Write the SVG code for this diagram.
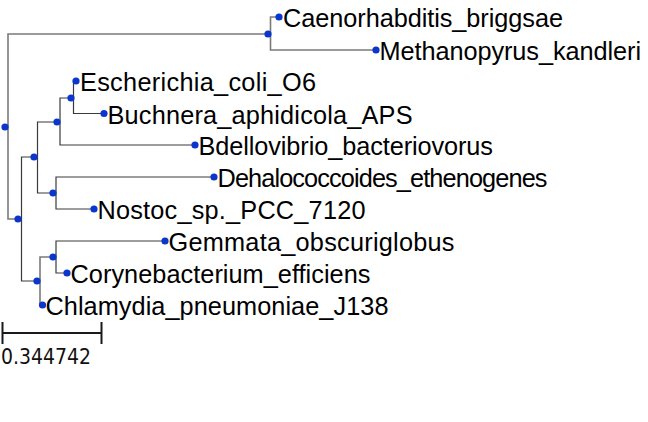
<svg xmlns="http://www.w3.org/2000/svg" width="648" height="422" viewBox="0 0 648 422">
<style>
.e{fill:none;stroke:#3a3a3a;stroke-width:1.2}
.g{fill:none;stroke:#7a7a7a;stroke-width:1.6}
.d{fill:#0a36cc}
.t{font-family:"Liberation Sans",Arial,sans-serif;font-size:25.3px;fill:#000}
.s{fill:none;stroke:#1a1a1a;stroke-width:2}
.sl{font-family:"DejaVu Sans",Verdana,sans-serif;font-size:21px;fill:#111}
</style>
<rect width="648" height="422" fill="#fff"/>
<g id="connectors">
<path class="g" d="M8,127V34H268M8,127V219H18"/>
<path class="g" d="M270.5,34V17H279M270.5,34V50H376"/>
<path class="e" d="M21.5,219V157H34M21.5,219V281H37"/>
<path class="e" d="M37.5,157V122H57M37.5,157V193H53"/>
<path class="e" d="M60,122V98H70M60,122V145H195"/>
<path class="e" d="M73.5,98V81H76M73.5,98V113.5H104"/>
<path class="e" d="M56,193V177H214M56,193V209H94"/>
<path class="g" d="M40,281V257H53M40,281V305H42"/>
<path class="e" d="M56,257V241H165M56,257V273H67"/>
</g>
<g id="internal-nodes">
<circle class="d" cx="5" cy="127" r="3.6"/>
<circle class="d" cx="268" cy="34" r="3.6"/>
<circle class="d" cx="18" cy="219" r="3.6"/>
<circle class="d" cx="34" cy="157" r="3.6"/>
<circle class="d" cx="57" cy="122" r="3.6"/>
<circle class="d" cx="71" cy="98" r="3.6"/>
<circle class="d" cx="53" cy="193" r="3.6"/>
<circle class="d" cx="37" cy="281" r="3.6"/>
<circle class="d" cx="53" cy="257" r="3.6"/>
</g>
<g id="leaf-caenorhabditis"><circle class="d" cx="279" cy="17" r="3.6"/><text class="t" x="283" y="27" textLength="280" lengthAdjust="spacing">Caenorhabditis_briggsae</text></g>
<g id="leaf-methanopyrus"><circle class="d" cx="376" cy="50" r="3.6"/><text class="t" x="379.5" y="60" textLength="261.5" lengthAdjust="spacing">Methanopyrus_kandleri</text></g>
<g id="leaf-escherichia"><circle class="d" cx="76" cy="81" r="3.6"/><text class="t" x="80" y="91" textLength="236" lengthAdjust="spacing">Escherichia_coli_O6</text></g>
<g id="leaf-buchnera"><circle class="d" cx="104" cy="113.5" r="3.6"/><text class="t" x="107.5" y="123.5" textLength="305" lengthAdjust="spacing">Buchnera_aphidicola_APS</text></g>
<g id="leaf-bdellovibrio"><circle class="d" cx="195" cy="145" r="3.6"/><text class="t" x="198.5" y="155" textLength="294.5" lengthAdjust="spacing">Bdellovibrio_bacteriovorus</text></g>
<g id="leaf-dehalococcoides"><circle class="d" cx="214" cy="177" r="3.6"/><text class="t" x="217.5" y="187" textLength="330" lengthAdjust="spacing">Dehalococcoides_ethenogenes</text></g>
<g id="leaf-nostoc"><circle class="d" cx="94" cy="209" r="3.6"/><text class="t" x="97.5" y="219" textLength="268" lengthAdjust="spacing">Nostoc_sp._PCC_7120</text></g>
<g id="leaf-gemmata"><circle class="d" cx="165" cy="241" r="3.6"/><text class="t" x="168.5" y="251" textLength="286" lengthAdjust="spacing">Gemmata_obscuriglobus</text></g>
<g id="leaf-corynebacterium"><circle class="d" cx="67" cy="273" r="3.6"/><text class="t" x="70.5" y="283" textLength="300" lengthAdjust="spacing">Corynebacterium_efficiens</text></g>
<g id="leaf-chlamydia"><circle class="d" cx="42.5" cy="305" r="3.6"/><text class="t" x="45.5" y="314.5" textLength="343" lengthAdjust="spacing">Chlamydia_pneumoniae_J138</text></g>
<g id="scale-bar">
<path class="s" d="M2.5,322V344M2.5,333H101.5M101.5,322V344"/>
<text class="sl" x="1" y="364" textLength="90" lengthAdjust="spacingAndGlyphs">0.344742</text>
</g>
</svg>
